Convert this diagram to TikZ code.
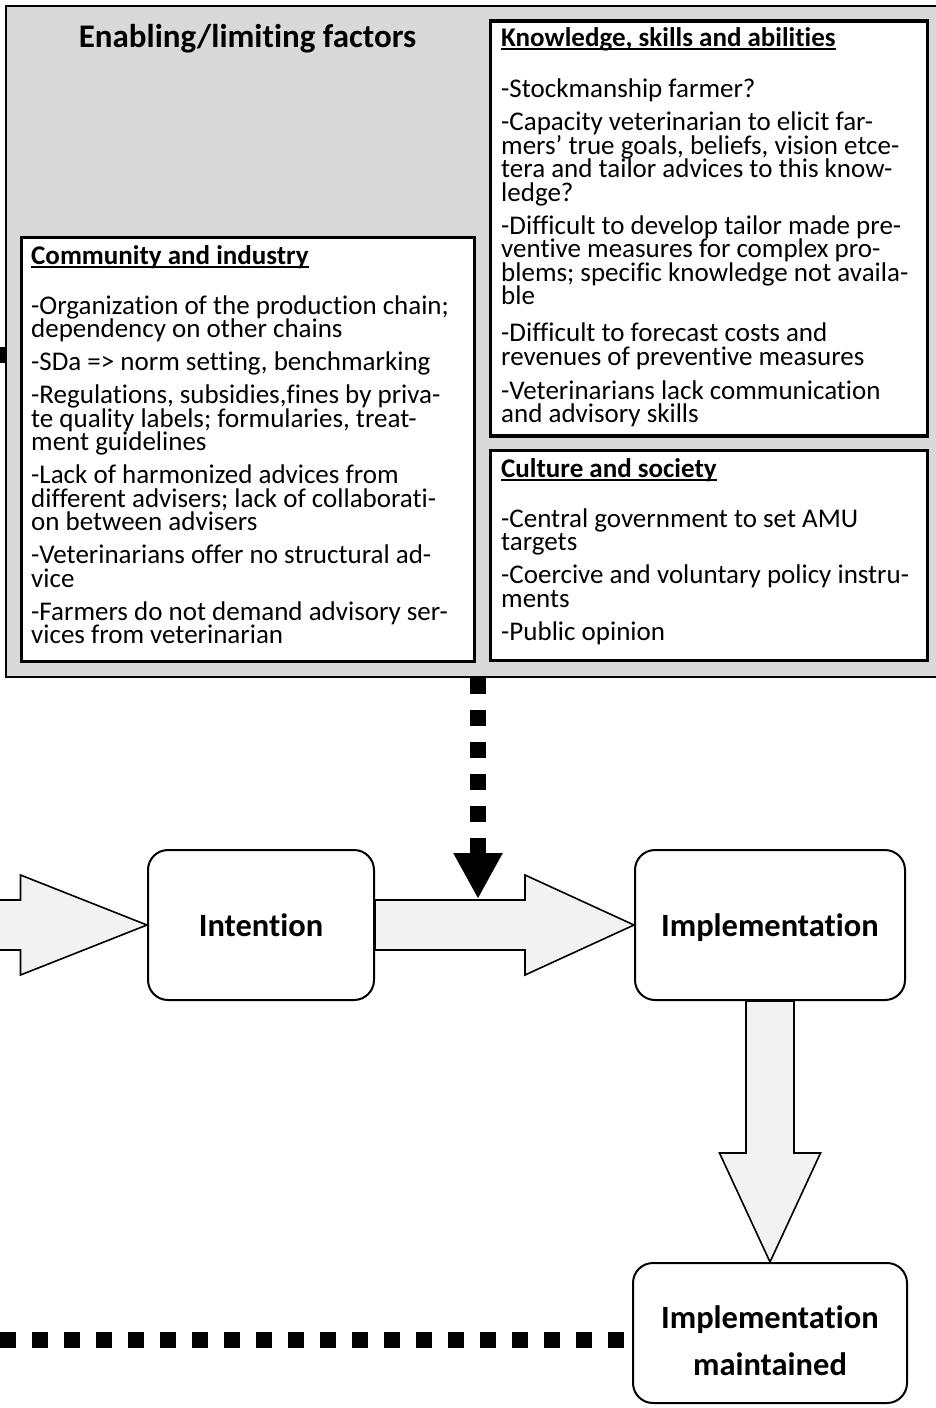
\documentclass[tikz,border=0pt]{standalone}
\usepackage{fontspec}
\setmainfont{Carlito}[Ligatures=NoCommon]
\usetikzlibrary{positioning,calc,arrows.meta}
\newsavebox{\headbox}
\newcommand{\ulhead}[1]{\rule{0pt}{21pt}\sbox{\headbox}{\bfseries #1}\rlap{\rule[-3.3pt]{\wd\headbox}{1.5pt}}\usebox{\headbox}}

\begin{document}
\begin{tikzpicture}[x=1pt,y=-1pt]
	\tikzstyle{outerbox}=[draw,line width=2.3pt,fill=black!15,inner sep=0]
	\tikzstyle{panel}=[draw,line width=3.3pt,fill=white,inner sep=0]
	\tikzstyle{textblock}=[align=left,inner sep=0,anchor=north west,font=\fontsize{27}{23.5}\selectfont]
	\tikzstyle{state}=[draw,line width=2pt,rounded corners=20pt,fill=white,minimum height=150pt,text depth=0pt,font=\bfseries\fontsize{32.5}{47}\selectfont,align=center]
	\tikzstyle{fat}=[draw,line width=1.6pt,fill=black!5,line join=miter]
	\tikzstyle{dots}=[line width=16pt,dash pattern=on 16pt off 16pt]

	\useasboundingbox (0,0) rectangle (936,1408);

	\node[outerbox,anchor=north west,minimum width=1000pt,minimum height=671pt] (factors) at (5,5) { };
	\node[font=\bfseries\fontsize{33}{36}\selectfont,anchor=base] (title) at (247.5,47) {Enabling/limiting factors};

	\node[panel,minimum width=437pt,minimum height=415pt] (skills) at (709.2,228.4) { };
	\node[panel,minimum width=437pt,minimum height=210pt] (culture) [below=11.5pt of skills] { };
	\node[panel,minimum width=452.6pt,minimum height=424pt] (industry) at (248,449.7) { };

	\node[textblock] (skillstext) at (501,25) {\ulhead{Knowledge, skills and abilities}\\[28pt]
		-Stockmanship farmer?\\[9.5pt]
		-Capacity veterinarian to elicit far-\\
		mers’ true goals, beliefs, vision etce-\\
		tera and tailor advices to this know-\\
		ledge?\\[9.5pt]
		-Difficult to develop tailor made pre-\\
		ventive measures for complex pro-\\
		blems; specific knowledge not availa-\\
		ble\\[13.5pt]
		-Difficult to forecast costs and\\
		revenues of preventive measures\\[10.5pt]
		-Veterinarians lack communication\\
		and advisory skills};

	\node[textblock] (industrytext) at (31,243) {\ulhead{Community and industry}\\[26.5pt]
		-Organization of the production chain;\\
		dependency on other chains\\[9.5pt]
		-SDa => norm setting, benchmarking\\[9.5pt]
		-Regulations, subsidies,fines by priva-\\
		te quality labels; formularies, treat-\\
		ment guidelines\\[9.5pt]
		-Lack of harmonized advices from\\
		different advisers; lack of collaborati-\\
		on between advisers\\[9.5pt]
		-Veterinarians offer no structural ad-\\
		vice\\[9.5pt]
		-Farmers do not demand advisory ser-\\
		vices from veterinarian};

	\node[textblock] (culturetext) at (501,456) {\ulhead{Culture and society}\\[26.5pt]
		-Central government to set AMU\\
		targets\\[9.5pt]
		-Coercive and voluntary policy instru-\\
		ments\\[9.5pt]
		-Public opinion};

	\node[state,minimum width=226pt] (intent) at (261,925) {Intention};
	\node[state,minimum width=270pt] (impl) [right=259pt of intent] {Implementation};
	\node[state,minimum width=274pt,minimum height=140pt,text height=85.5pt] (maint) [below=261pt of impl] {Implementation\\maintained};

	\coordinate (entry) at (-40,925);
	\coordinate (hit) at (478,899);

	\draw[fat] ($(entry)+(0,-25)$) -- ($(intent.west)+(-126.5,-25)$) -- ++(0,-25) -- (intent.west) -- ++(-126.5,50) -- ++(0,-25) -- ($(entry)+(0,25)$) -- cycle;
	\draw[fat] ($(intent.east)+(0,-25)$) -- ($(impl.west)+(-109,-25)$) -- ++(0,-25) -- (impl.west) -- ++(-109,50) -- ++(0,-25) -- ($(intent.east)+(0,25)$) -- cycle;
	\draw[fat] ($(impl.south)+(-24,0)$) -- ($(maint.north)+(-24,-109)$) -- ++(-26.5,0) -- (maint.north) -- ++(50.5,-109) -- ++(-26.5,0) -- ($(impl.south)+(24,0)$) -- cycle;

	\draw[dots,-{Triangle[width=46pt,length=46pt]}] (factors.south -| hit) -- (hit);
	\draw[dots,dash phase=24pt] ($(maint.west)+(0,6.5)$) -- ++(-700,0);
	\draw[dots] (factors.west |- 0,355) -- ++(-40,0);

\end{tikzpicture}
\end{document}
